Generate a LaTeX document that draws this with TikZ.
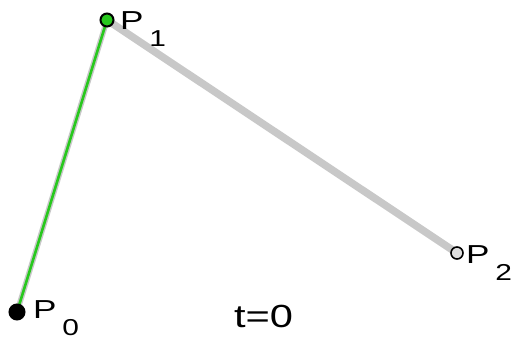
\documentclass[tikz,border=0pt]{standalone}
\usepackage{fontspec}
\setmainfont{Liberation Sans}
\definecolor{lgray}{RGB}{200,200,200}
\definecolor{bgreen}{RGB}{40,200,30}
\newcommand{\plabel}[1]{\scalebox{1.35}[1]{\fontsize{26}{26}\selectfont P}\hspace{6pt}\raisebox{-17.5pt}{\scalebox{1.3}[1]{\fontsize{23}{23}\selectfont #1}}}
\begin{document}
\begin{tikzpicture}[x=1pt,y=-1pt,
  pt/.style={circle,draw=black,line width=2pt,inner sep=0pt},
  lbl/.style={anchor=base west,inner sep=0pt,outer sep=0pt}]
\useasboundingbox (0,0) rectangle (515,340);
\coordinate (A) at (17,312);
\coordinate (B) at (107,20);
\coordinate (C) at (457,253);
\draw[lgray,line width=5.5pt] (A) -- (B);
\draw[lgray,line width=7.5pt] (B) -- (C);
\draw[bgreen,line width=2.6pt] (A) -- (B);
\node[pt,fill=black,minimum size=15pt] (p0) at (A) {};
\node[pt,fill=bgreen,minimum size=13pt] (p1) at (B) {};
\node[pt,fill=lgray!60,line width=1.6pt,minimum size=12pt] (p2) at (C) {};
\node[lbl] (l0) at (33,318) {\plabel{0}};
\node[lbl] (l1) at (120,29) {\plabel{1}};
\node[lbl] (l2) at (466,263) {\plabel{2}};
\node[lbl] (t) at (234,327) {\scalebox{1.3}[1]{\fontsize{32}{32}\selectfont t=0}};
\end{tikzpicture}
\end{document}
